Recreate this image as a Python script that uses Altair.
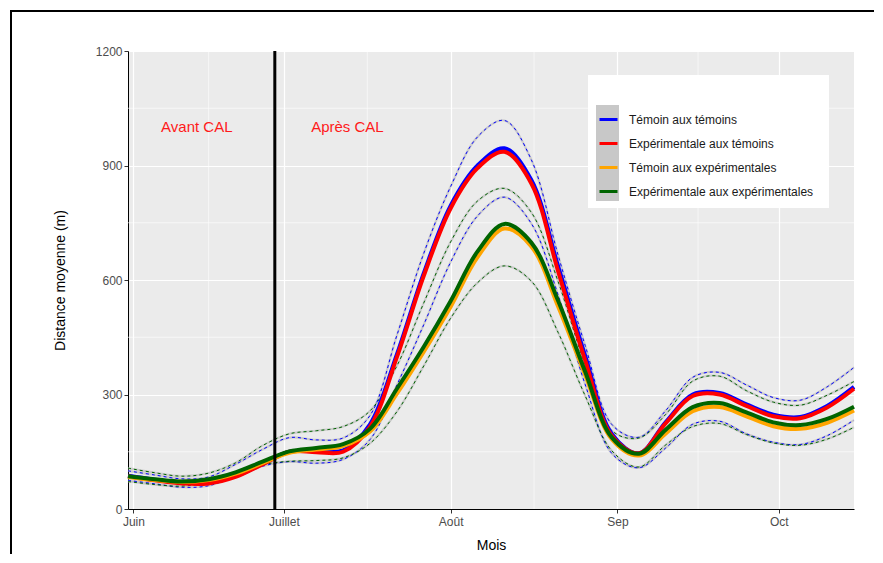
import altair as alt
import pandas as pd

# ---------------- data ----------------
days = [-1, 4, 9, 14, 19, 24, 29, 34, 39, 44, 49, 54, 59, 64, 69, 74,
        79, 84, 89, 94, 99, 104, 109, 114, 119, 124, 129, 134]

series_names = ["Témoin aux témoins", "Expérimentale aux témoins",
                "Témoin aux expérimentales", "Expérimentale aux expérimentales"]
series_colors = ["#0000FF", "#FF0000", "#FFA500", "#006400"]

temoin_temoins = [87, 77, 70, 70, 86, 118, 150, 152, 154, 222, 405, 618, 795, 900, 945, 862,
                  635, 402, 196, 146, 228, 300, 304, 274, 247, 241, 270, 320]
exp_temoins = [86, 75, 67, 67, 84, 117, 150, 149, 150, 215, 398, 611, 788, 893, 936, 853,
               622, 390, 191, 146, 225, 296, 300, 270, 243, 238, 266, 315]
temoin_exp = [84, 76, 71, 76, 93, 120, 147, 156, 165, 203, 302, 412, 530, 660, 735, 688,
              530, 352, 182, 140, 198, 256, 267, 243, 217, 210, 226, 258]
exp_exp = [86, 78, 72, 78, 96, 124, 151, 160, 170, 210, 315, 425, 545, 675, 747, 698,
           545, 360, 187, 145, 208, 267, 278, 253, 227, 220, 236, 268]

band_names = ["Témoins sup", "Témoins inf", "Expérimentales sup", "Expérimentales inf"]
band_colors = ["#0000FF", "#0000FF", "#006400", "#006400"]
temoins_sup = [100, 89, 79, 84, 117, 156, 187, 181, 186, 245, 455, 670, 845, 975, 1018, 915,
               664, 429, 221, 188, 258, 345, 358, 325, 292, 285, 320, 371]
temoins_inf = [75, 66, 57, 61, 86, 112, 124, 120, 130, 182, 325, 483, 647, 768, 817, 748,
               560, 327, 145, 108, 160, 222, 230, 197, 175, 169, 192, 233]
exp_sup = [107, 95, 86, 94, 121, 166, 197, 205, 216, 257, 375, 540, 700, 807, 840, 777,
           595, 377, 205, 186, 248, 335, 348, 310, 280, 272, 298, 334]
exp_inf = [72, 64, 60, 70, 94, 116, 125, 127, 134, 172, 255, 375, 500, 593, 637, 597,
           462, 297, 152, 110, 168, 216, 224, 195, 173, 167, 183, 214]

tick_days = [0, 28, 59, 90, 120]
tick_labels = ["Juin", "Juillet", "Août", "Sep", "Oct"]
y_ticks = [0, 300, 600, 900, 1200]
minor_x = [14, 43.5, 74.5, 105]
minor_y = [150, 450, 750, 1050]
cal_day = [26.3]
annot_text = ["Avant CAL", "Après CAL"]
annot_day = [11.8, 39.8]
annot_val = [1000, 1000]

# ---------------- tables ----------------
main_rows = []
for name, vals in zip(series_names, [temoin_temoins, exp_temoins, temoin_exp, exp_exp]):
    for d, v in zip(days, vals):
        main_rows.append({"series": name, "day": d, "value": v})
df_main = pd.DataFrame(main_rows)

band_rows = []
for name, col, vals in zip(band_names, band_colors, [temoins_sup, temoins_inf, exp_sup, exp_inf]):
    for d, v in zip(days, vals):
        band_rows.append({"band": name, "bcolor": col, "day": d, "value": v})
df_band = pd.DataFrame(band_rows)

df_minor_x = pd.DataFrame({"day": minor_x})
df_minor_y = pd.DataFrame({"value": minor_y})
df_cal = pd.DataFrame({"day": cal_day})
df_annot = pd.DataFrame({"text": annot_text, "day": annot_day, "value": annot_val})
df_one = pd.DataFrame({"k": [0]})

FONT = "Liberation Sans"
CURVE = "catmull-rom"

label_expr = " : ".join(
    "datum.value == %s ? '%s'" % (d, l) for d, l in zip(tick_days, tick_labels)
) + " : ''"

x_scale = alt.Scale(domain=[-1, 134], nice=False, zero=False)
y_scale = alt.Scale(domain=[0, 1200], nice=False, zero=True)

x_axis = alt.Axis(values=tick_days, labelExpr=label_expr, title="Mois",
                  grid=True, gridColor="white", gridWidth=1.2,
                  domainColor="black", domainWidth=1,
                  tickColor="#333333", tickSize=4, tickWidth=1,
                  labelColor="#4D4D4D", labelFontSize=12, labelFont=FONT,
                  labelPadding=3, titleFont=FONT, titleFontSize=14,
                  titleFontWeight="normal", titleColor="black", titlePadding=11,
                  labelFlush=False)
y_axis = alt.Axis(values=y_ticks, format="d", title="Distance moyenne (m)",
                  grid=True, gridColor="white", gridWidth=1.2,
                  domainColor="black", domainWidth=1,
                  tickColor="#333333", tickSize=4, tickWidth=1,
                  labelColor="#4D4D4D", labelFontSize=12, labelFont=FONT,
                  labelPadding=2, titleFont=FONT, titleFontSize=14,
                  titleFontWeight="normal", titleColor="black", titlePadding=28,
                  labelFlush=False)


def X(field="day"):
    return alt.X(field + ":Q", scale=x_scale, axis=x_axis)


def Y(field="value"):
    return alt.Y(field + ":Q", scale=y_scale, axis=y_axis)


color_enc = alt.Color(
    "series:N",
    scale=alt.Scale(domain=series_names, range=series_colors),
    sort=series_names,
    legend=alt.Legend(title=None, orient="none", legendX=470, legendY=58,
                      symbolType="stroke", symbolStrokeWidth=3, symbolSize=324,
                      labelFontSize=12, labelFont=FONT, labelColor="#1A1A1A",
                      labelLimit=400, rowPadding=7, padding=0, labelOffset=10),
)

# minor grid
minor_v = alt.Chart(df_minor_x).mark_rule(color="white", strokeWidth=0.6).encode(x=X())
minor_h = alt.Chart(df_minor_y).mark_rule(color="white", strokeWidth=0.6).encode(y=Y())

# band shadows + dashes
band_shadow = alt.Chart(df_band).mark_line(
    color="#B8B8B8", strokeWidth=2.2, opacity=0.6, interpolate=CURVE
).encode(x=X(), y=Y(), detail="band:N")

band_layers = []
for name, col in zip(band_names, band_colors):
    band_layers.append(
        alt.Chart(df_band).transform_filter(alt.datum.band == name).mark_line(
            color=col, strokeWidth=1, strokeDash=[3, 3], interpolate=CURVE
        ).encode(x=X(), y=Y())
    )

main_layers = []
for name in series_names:
    main_layers.append(
        alt.Chart(df_main).transform_filter(alt.datum.series == name).mark_line(
            strokeWidth=4, interpolate=CURVE
        ).encode(x=X(), y=Y(), color=color_enc)
    )

cal_rule = alt.Chart(df_cal).mark_rule(color="black", strokeWidth=3).encode(x=X())

annot = alt.Chart(df_annot).mark_text(
    color="#FF1A1A", fontSize=15, font=FONT, align="center", baseline="middle"
).encode(x=X(), y=Y(), text="text:N")

# legend background (white box and grey key column)
legend_box = alt.Chart(df_one).mark_rect(color="white").encode(
    x=alt.value(460), x2=alt.value(701), y=alt.value(24), y2=alt.value(157))
legend_key = alt.Chart(df_one).mark_rect(color="#C8C8C8").encode(
    x=alt.value(468), x2=alt.value(491), y=alt.value(54), y2=alt.value(150))

# outer figure frame
frame_top = alt.Chart(df_one).mark_rule(color="black", strokeWidth=2).encode(
    x=alt.value(-118), x2=alt.value(780), y=alt.value(-40))
frame_left = alt.Chart(df_one).mark_rule(color="black", strokeWidth=2).encode(
    x=alt.value(-117), y=alt.value(-41), y2=alt.value(600))

chart = alt.layer(
    minor_v, minor_h, band_shadow, *band_layers, *main_layers,
    cal_rule, annot, legend_box, legend_key, frame_top, frame_left
).properties(
    width=726, height=458,
    autosize=alt.AutoSizeParams(type="none"),
    padding={"left": 120, "top": 43, "right": 20, "bottom": 45},
    background="white",
).configure_view(
    fill="#EBEBEB", stroke=None
)

chart.save("out.html", embed_options={"renderer": "svg", "actions": False})
